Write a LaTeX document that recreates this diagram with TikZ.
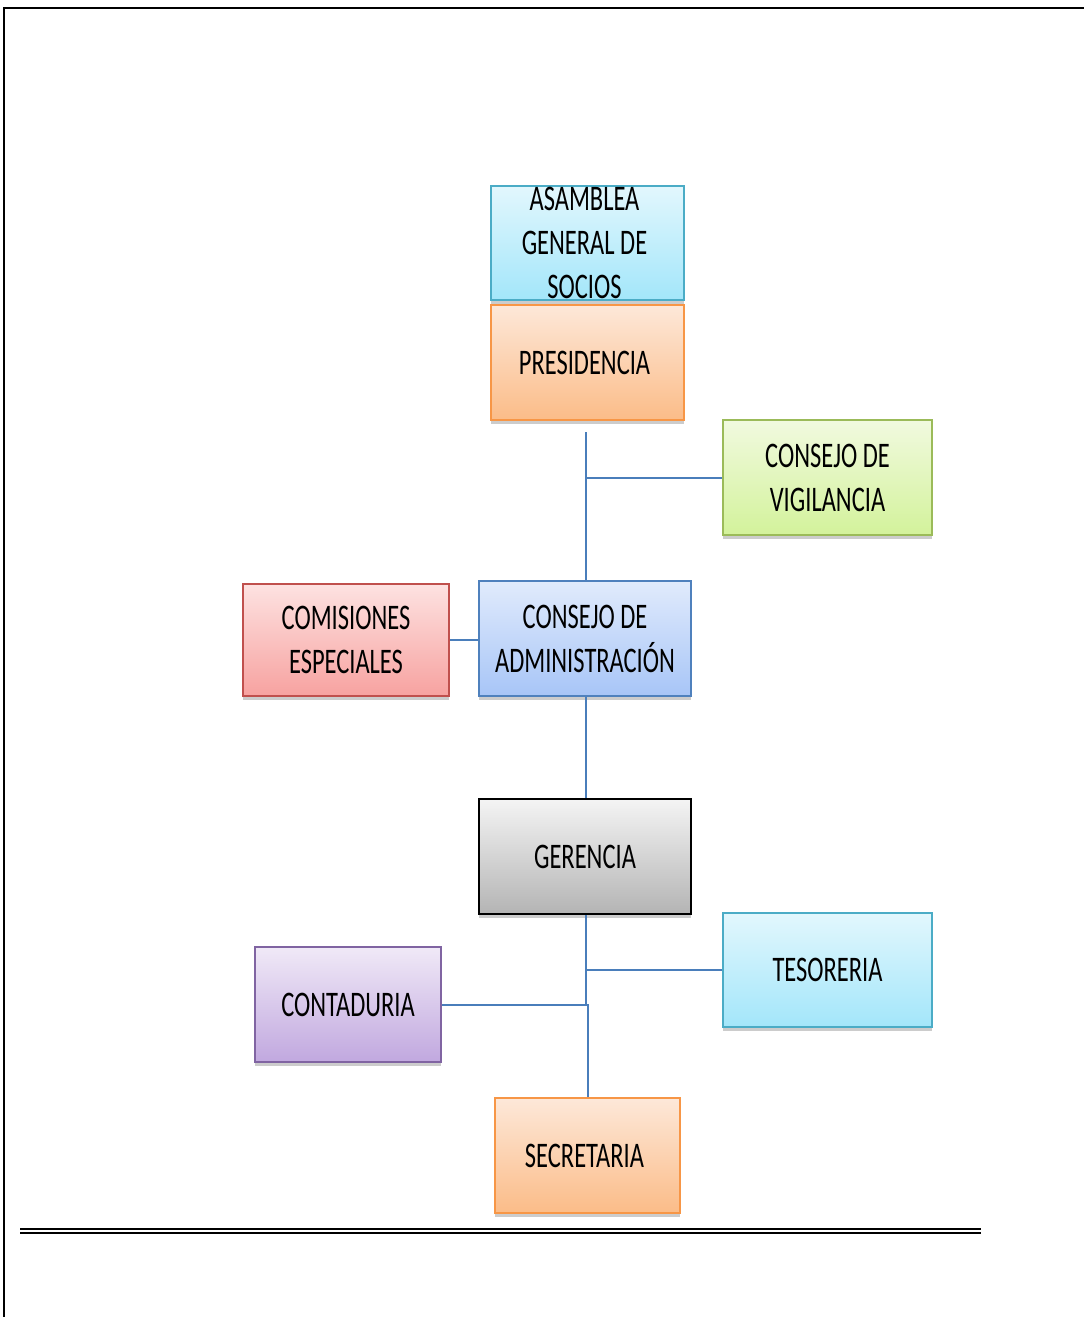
\documentclass[tikz,border=0pt]{standalone}
\usepackage{fontspec}
\newfontfamily\boxfont[FakeStretch=0.68]{Carlito}
\usetikzlibrary{shadows}
\definecolor{cyanB}{HTML}{4BACC6}\definecolor{cyanT}{HTML}{E2F7FD}\definecolor{cyanL}{HTML}{A3E6FA}
\definecolor{oraB}{HTML}{F79646}\definecolor{oraT}{HTML}{FDE8D9}\definecolor{oraL}{HTML}{FBBC88}
\definecolor{grnB}{HTML}{9BBB59}\definecolor{grnT}{HTML}{F1FADF}\definecolor{grnL}{HTML}{D3F29B}
\definecolor{redB}{HTML}{C0504D}\definecolor{redT}{HTML}{FDE2E1}\definecolor{redL}{HTML}{F7A2A0}
\definecolor{bluB}{HTML}{4F81BD}\definecolor{bluT}{HTML}{E1EBFC}\definecolor{bluL}{HTML}{A7C5F7}
\definecolor{purB}{HTML}{8064A2}\definecolor{purT}{HTML}{F0E9F7}\definecolor{purL}{HTML}{C1A8DF}
\definecolor{gryT}{HTML}{F4F4F4}\definecolor{gryL}{HTML}{B4B4B4}
\definecolor{conn}{HTML}{4A7EBB}
\begin{document}
\begin{tikzpicture}[x=1pt,y=-1pt,
  orgbox/.style={rectangle, line width=2pt, align=center,
    font=\boxfont\fontsize{36}{44}\selectfont, inner sep=0pt,
    drop shadow={shadow xshift=0pt, shadow yshift=-4pt, opacity=0.2, fill=black}},
  cyanbox/.style={orgbox, draw=cyanB, top color=cyanT, bottom color=cyanL},
  orabox/.style={orgbox, draw=oraB, top color=oraT, bottom color=oraL},
  grnbox/.style={orgbox, draw=grnB, top color=grnT, bottom color=grnL},
  redbox/.style={orgbox, draw=redB, top color=redT, bottom color=redL},
  blubox/.style={orgbox, draw=bluB, top color=bluT, bottom color=bluL},
  purbox/.style={orgbox, draw=purB, top color=purT, bottom color=purL},
  grybox/.style={orgbox, draw=black, line width=2.5pt, top color=gryT, bottom color=gryL},
  boxtext/.style={align=center, font=\boxfont\fontsize{36}{44}\selectfont, inner sep=0pt},
  link/.style={draw=conn, line width=2pt},
  frame/.style={draw=black, line width=2pt}]
\useasboundingbox (0,0) rectangle (1084,1317);
\draw[frame] (4,1317) -- (4,7.5) -- (1084,7.5);
\draw[frame, line width=1.8pt] (20,1229.3) -- (981,1229.3);
\draw[frame, line width=1.8pt] (20,1233.2) -- (981,1233.2);

\node[cyanbox, minimum width=193pt, minimum height=114pt] (asamblea) at (587.5,243) {};
\node[boxtext] (asambleatext) at ([xshift=-3pt]asamblea.center) {ASAMBLEA\\GENERAL DE\\SOCIOS};
\node[orabox, minimum width=193pt, minimum height=115pt] (presidencia) at (587.5,362.5) {\hspace*{-6pt}PRESIDENCIA};
\node[grnbox, minimum width=209pt, minimum height=115pt] (vigilancia) at (827.5,477.5) {CONSEJO DE\\VIGILANCIA};
\node[redbox, minimum width=206pt, minimum height=112pt] (comisiones) at (346,640) {COMISIONES\\ESPECIALES};
\node[blubox, minimum width=212pt, minimum height=115pt] (admin) at (585,638.5) {CONSEJO DE\\ADMINISTRACIÓN};
\node[grybox, minimum width=212pt, minimum height=115pt] (gerencia) at (585,856.5) {GERENCIA};
\node[cyanbox, minimum width=209pt, minimum height=114pt] (tesoreria) at (827.5,970) {TESORERIA};
\node[purbox, minimum width=186pt, minimum height=115pt] (contaduria) at (348,1004.5) {CONTADURIA};
\node[orabox, minimum width=185pt, minimum height=115pt] (secretaria) at (587.5,1155.5) {\hspace*{-6pt}SECRETARIA};

\coordinate (p1) at (586,432);
\coordinate (g1) at ([xshift=1pt]gerencia.south);
\coordinate (s1) at ([xshift=0.5pt]secretaria.north);
\draw[link] (p1) -- (p1 |- admin.north);
\draw[link] (vigilancia.west) -- (vigilancia.west -| p1);
\draw[link] (comisiones.east) -- ([yshift=-1.5pt]admin.west);
\draw[link] ([xshift=1pt]admin.south) -- (g1 |- gerencia.north);
\draw[link] (g1) -- (g1 |- contaduria.east) -- (s1 |- contaduria.east) -- (s1);
\draw[link] (tesoreria.west) -- (tesoreria.west -| g1);
\draw[link] (contaduria.east) -- (contaduria.east -| s1);
\end{tikzpicture}
\end{document}
